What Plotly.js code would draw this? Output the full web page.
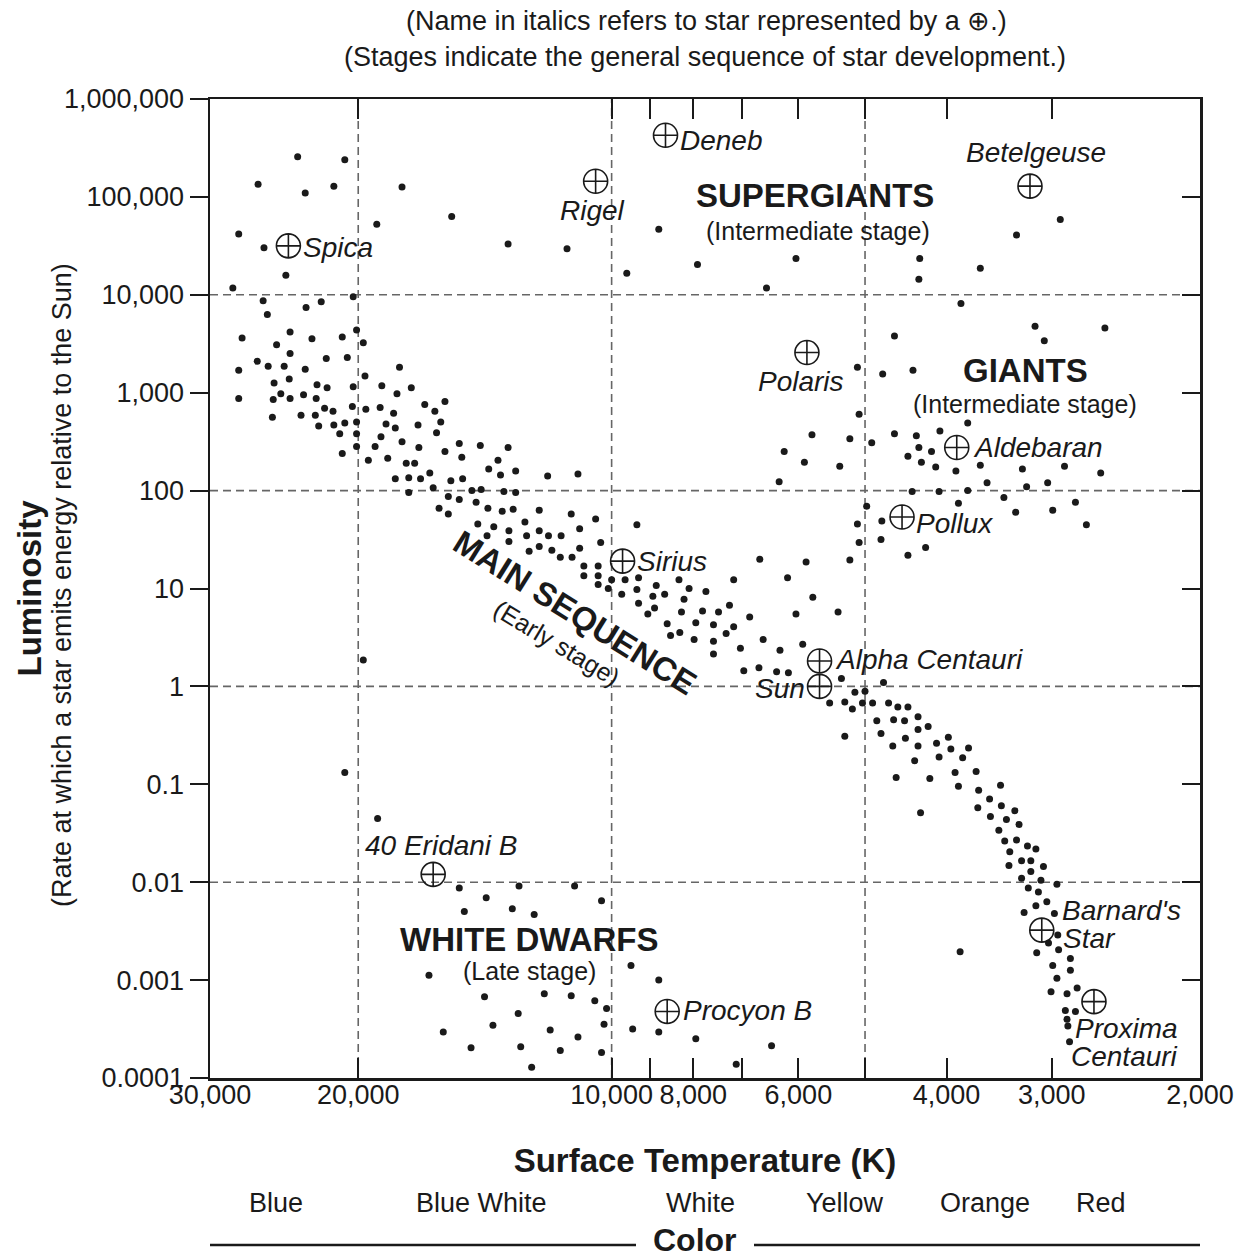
<!DOCTYPE html>
<html><head><meta charset="utf-8">
<script src="https://cdn.plot.ly/plotly-3.0.1.min.js"></script>
<style>html,body{margin:0;padding:0;background:#fff;}#chart{width:1243px;height:1258px;}</style>
</head><body><div id="chart"></div>
<script>
// ---- Data (log10 of surface temperature in K, log10 of luminosity in Suns) ----
const logTemperature = [
4.373,4.317,4.420,4.364,4.330,4.249,4.279,4.443,4.413,4.387,4.450,4.307,4.190,4.123,4.053,3.982,3.944,3.898,3.781,3.816,
3.467,3.519,3.634,3.635,3.562,3.585,3.664,3.497,3.486,3.414,
4.414,4.409,4.363,4.345,4.439,4.382,4.398,4.356,4.320,4.303,4.295,4.382,4.339,4.314,4.421,4.443,4.408,4.389,4.364,4.252,
4.293,4.401,4.383,4.350,4.338,4.307,4.273,4.238,4.255,4.443,4.402,4.393,4.382,4.366,4.351,4.341,4.331,4.308,4.292,4.275,
4.259,4.222,4.403,4.369,4.352,4.348,4.330,4.317,4.303,4.268,4.257,4.230,4.323,4.303,4.274,4.249,4.320,4.303,4.281,4.229,
4.289,4.266,4.244,4.234,4.257,4.241,4.227,4.216,4.198,4.210,4.203,4.208,4.198,4.181,4.156,4.123,4.178,4.191,4.177,4.146,
4.135,4.132,4.114,4.076,4.040,4.212,4.241,4.194,4.181,4.166,4.155,4.128,4.114,4.161,4.205,4.194,4.147,4.130,4.117,4.086,
4.048,4.019,3.970,4.159,4.140,4.103,4.148,4.122,4.101,4.086,4.075,4.060,4.038,4.013,4.122,4.098,4.086,4.071,4.038,4.061,
4.047,3.801,3.708,3.706,3.824,3.769,3.717,4.033,4.016,4.033,4.016,4.000,3.984,3.968,3.920,3.855,3.791,4.016,4.004,3.970,
3.947,3.908,3.888,3.988,3.951,3.937,3.914,3.761,3.968,3.949,3.957,3.917,3.892,3.873,3.860,3.836,3.781,3.731,3.934,3.900,
3.879,3.855,3.930,3.919,3.902,3.879,3.864,3.820,3.773,3.847,3.879,3.800,3.843,3.825,3.804,3.790,3.727,3.677,3.711,3.699,
3.741,3.723,3.714,3.702,3.690,3.671,3.660,3.648,3.685,3.665,3.652,3.636,3.723,3.680,3.651,3.636,3.624,3.614,3.600,3.666,
3.636,3.597,3.576,3.611,3.583,3.640,3.592,3.567,3.662,3.622,3.588,3.564,3.538,3.551,3.565,3.537,3.633,3.550,3.531,3.540,
3.533,3.527,3.521,3.516,3.519,3.506,3.496,3.528,3.513,3.502,3.487,3.502,3.513,3.490,3.471,3.505,3.493,3.510,3.496,3.483,
3.474,3.470,3.481,3.469,3.495,3.476,3.455,3.455,3.471,3.478,3.459,3.447,3.461,3.449,3.459,3.458,3.456,3.586,
3.708,3.678,3.642,3.706,3.577,3.610,3.762,3.717,3.691,3.664,3.638,3.795,3.635,3.620,3.648,3.632,3.771,3.729,3.615,3.591,
3.562,3.512,3.462,3.419,3.554,3.507,3.482,3.643,3.611,3.577,3.534,3.588,3.449,3.697,3.520,3.476,3.436,3.679,3.680,3.627,
3.648,
4.295,4.317,4.278,4.181,4.110,4.044,4.149,4.118,4.092,4.175,4.012,3.977,3.944,4.217,4.151,4.080,4.048,4.020,4.006,4.111,
4.141,4.200,4.073,4.040,4.009,3.975,3.944,3.900,3.810,3.852,4.167,4.108,4.061,4.012,4.095
];
const logLuminosity = [
5.41,5.38,5.13,5.04,5.11,5.10,4.72,4.62,4.48,4.20,4.07,3.98,4.80,4.52,4.47,4.22,4.67,4.31,4.37,4.07,
4.77,4.61,4.37,4.16,4.27,3.91,3.58,3.68,3.53,3.66,
3.94,3.80,3.87,3.93,3.56,3.62,3.49,3.55,3.57,3.64,3.51,3.40,3.35,3.36,3.32,3.23,3.27,3.27,3.24,3.26,
3.17,3.10,3.14,3.08,3.05,3.06,3.07,3.05,2.99,2.94,2.93,2.99,2.94,2.98,2.94,2.84,2.81,2.86,2.83,2.85,
2.79,2.88,2.75,2.77,2.77,2.66,2.67,2.69,2.70,2.68,2.64,2.67,2.58,2.58,2.55,2.50,2.38,2.45,2.45,2.44,
2.31,2.33,2.28,2.28,2.12,2.13,2.12,2.18,2.91,2.81,2.70,2.59,2.40,2.48,2.46,2.44,2.34,2.10,2.12,2.22,
2.31,2.16,2.20,2.15,2.17,2.03,1.98,1.94,1.91,2.00,2.01,1.99,1.98,1.88,1.82,1.76,1.82,1.79,1.81,1.80,
1.76,1.71,1.65,1.66,1.63,1.68,1.54,1.59,1.54,1.59,1.54,1.54,1.61,1.47,1.48,1.38,1.43,1.39,1.41,1.32,
1.32,2.09,1.66,1.47,1.30,1.27,1.29,1.23,1.23,1.13,1.13,1.09,1.09,1.11,1.09,1.09,1.11,1.04,1.00,0.99,
1.03,1.00,0.97,0.94,0.92,0.94,0.89,0.91,0.85,0.80,0.74,0.76,0.77,0.76,0.83,0.71,0.74,0.76,0.64,0.65,
0.63,0.61,0.52,0.55,0.48,0.46,0.54,0.48,0.43,0.39,0.33,0.37,0.16,0.19,0.15,0.14,0.08,0.04,-0.06,-0.05,
-0.17,-0.16,-0.23,-0.17,-0.17,-0.17,-0.21,-0.21,-0.35,-0.34,-0.35,-0.31,-0.51,-0.48,-0.53,-0.44,-0.41,-0.58,-0.52,-0.61,
-0.61,-0.64,-0.63,-0.72,-0.73,-0.76,-0.88,-0.87,-0.93,-0.94,-1.02,-1.06,-1.01,-1.15,-1.24,-1.22,-1.29,-1.33,-1.36,-1.47,
-1.58,-1.69,-1.27,-1.41,-1.57,-1.63,-1.66,-1.83,-1.78,-1.78,-1.84,-1.89,-1.96,-1.98,-2.02,-2.06,-2.10,-2.31,-2.24,-2.20,
-2.32,-2.54,-2.62,-2.69,-2.72,-2.85,-2.78,-2.90,-2.98,-3.12,-3.14,-3.08,-3.31,-3.32,-3.40,-3.47,-3.63,-2.71,
3.26,3.19,3.23,2.78,2.69,2.61,2.57,2.53,2.49,2.58,2.56,2.40,2.44,2.40,2.35,2.29,2.29,2.25,2.24,2.20,
2.26,2.22,2.25,2.18,2.08,2.04,2.08,1.99,1.99,2.00,1.93,1.87,1.88,1.84,1.78,1.80,1.65,1.69,1.50,1.42,
1.34,
0.27,-0.88,-1.35,-2.06,-2.04,-2.04,-2.16,-2.27,-2.33,-2.30,-2.19,-2.85,-3.00,-2.95,-3.17,-3.14,-3.16,-3.21,-3.29,-3.34,
-3.46,-3.53,-3.51,-3.58,-3.45,-3.50,-3.53,-3.60,-3.67,-3.86,-3.69,-3.68,-3.72,-3.74,-3.89
];

// Named stars (drawn with a circle-cross symbol)
const starNames   = ['Spica','Rigel','Deneb','Betelgeuse','Polaris','Aldebaran','Pollux','Sirius','Alpha Centauri','Sun','40 Eridani B','Procyon B',"Barnard's Star",'Proxima Centauri'];
const starLogTemp = [4.384,4.019,3.936,3.503,3.768,3.590,3.655,3.987,3.753,3.753,4.212,3.934,3.489,3.427];
const starLogLum  = [4.50,5.16,5.63,5.11,3.41,2.44,1.73,1.28,0.26,0.00,-1.92,-3.32,-2.49,-3.22];

// Axes
const xTickTemps  = [30000,20000,10000,9000,8000,7000,6000,5000,4000,3000,2000];
const xTickLabels = ['30,000','20,000','10,000','','8,000','','6,000','','4,000','3,000','2,000'];
const yTickLums   = [1e6,1e5,1e4,1e3,100,10,1,0.1,0.01,0.001,0.0001];
const yTickLabels = ['1,000,000','100,000','10,000','1,000','100','10','1','0.1','0.01','0.001','0.0001'];
const gridTemps = [20000,10000,5000];
const gridLums  = [10000,100,1,0.01];
const colorNames = ['Blue','Blue White','White','Yellow','Orange','Red'];

// ---- Presentation ----
const FONT = '"Liberation Sans", Arial, Helvetica, sans-serif';
const INK = '#1a1a1a';
const pow10 = v => Math.pow(10, v);

const gx = [], gy = [];
gridTemps.forEach(t => { gx.push(t, t, null); gy.push(1e-4, 1e6, null); });
gridLums.forEach(l => { gx.push(30000, 2000, null); gy.push(l, l, null); });

const traces = [
  {type:'scatter', mode:'lines', x:gx, y:gy, hoverinfo:'skip',
   line:{color:'#666', width:1.6, dash:'8px,5px'}},
  {type:'scatter', mode:'markers', x:logTemperature.map(pow10), y:logLuminosity.map(pow10), hoverinfo:'skip',
   marker:{size:7, color:INK, line:{width:0}}},
  {type:'scatter', mode:'markers', x:starLogTemp.map(pow10), y:starLogLum.map(pow10), text:starNames, hoverinfo:'skip',
   marker:{symbol:'circle-cross-open', size:24, color:INK, line:{width:1.6, color:INK}}},
  {type:'scatter', mode:'markers', x:[], y:[], xaxis:'x', yaxis:'y2', hoverinfo:'skip'}
];

// label placement (pixel offsets from the star's symbol)
const labelPlace = {
  'Spica':{xa:'left', dx:13, dy:-2},
  'Rigel':{xa:'center', dx:-3, dy:-29},
  'Deneb':{xa:'left', dx:12, dy:-5},
  'Betelgeuse':{xa:'center', dx:6, dy:34},
  'Polaris':{xa:'center', dx:-6, dy:-29},
  'Aldebaran':{xa:'left', dx:14, dy:0},
  'Pollux':{xa:'left', dx:12, dy:-6},
  'Sirius':{xa:'left', dx:12, dy:0},
  'Alpha Centauri':{xa:'left', dx:13, dy:1},
  'Sun':{xa:'right', dx:-13, dy:-2},
  '40 Eridani B':{xa:'center', dx:8, dy:29},
  'Procyon B':{xa:'left', dx:14, dy:1},
  "Barnard's Star":{lines:["Barnard's","Star"], xa:'left', dx:[18,19], dy:[20,-8]},
  'Proxima Centauri':{lines:['Proxima','Centauri'], xa:'right', dx:[86,86], dy:[-27,-55]}
};

const annotations = [];
starNames.forEach((name, i) => {
  const p = labelPlace[name];
  const lines = p.lines || [name];
  lines.forEach((txt, k) => {
    annotations.push({xref:'x', yref:'y', x:starLogTemp[i], y:starLogLum[i], text:txt, showarrow:false,
      xanchor:p.xa, yanchor:'middle',
      xshift:Array.isArray(p.dx)?p.dx[k]:p.dx, yshift:Array.isArray(p.dy)?p.dy[k]:p.dy,
      font:{family:FONT, size:28, style:'italic', color:INK}});
  });
});

const px = v => (v - 210) / 990;
const py = v => (1078 - v) / 979;
function note(text, x, y, size, opts) {
  annotations.push(Object.assign({xref:'paper', yref:'paper', x:px(x), y:py(y), text:text, showarrow:false,
    xanchor:'center', yanchor:'middle', borderpad:0, font:{family:FONT, size:size, color:INK}}, opts||{}));
}
note('(Name in italics refers to star represented by a \u2295.)', 706, 21, 27);
note('(Stages indicate the general sequence of star development.)', 705, 57, 27);
note('<b>SUPERGIANTS</b>', 815, 196, 33);
note('(Intermediate stage)', 818, 231, 25);
note('<b>GIANTS</b>', 1025, 370, 33);
note('(Intermediate stage)', 1025, 404, 25);
note('<b>WHITE DWARFS</b>', 529, 939, 33);
note('(Late stage)', 529, 971, 25);
note('<b>MAIN SEQUENCE</b>', 575, 612, 33, {textangle:32});
note('(Early stage)', 557, 643, 25, {textangle:31});
note('(Rate at which a star emits energy relative to the Sun)', 62, 585, 27, {textangle:-90});
const colorX = [276, 481, 700, 845, 985, 1101];
colorNames.forEach((c, i) => note(c, colorX[i], 1203, 27));
note('<b>Color</b>', 695, 1240, 32);

const shapes = [
  {type:'line', xref:'paper', yref:'paper', x0:0, x1:px(636), y0:py(1245), y1:py(1245), line:{color:INK, width:2.5}},
  {type:'line', xref:'paper', yref:'paper', x0:px(754), x1:1, y0:py(1245), y1:py(1245), line:{color:INK, width:2.5}}
];

const layout = {
  width:1243, height:1258,
  margin:{l:210, r:43, t:99, b:180, pad:0},
  paper_bgcolor:'#ffffff', plot_bgcolor:'#ffffff',
  showlegend:false, hovermode:false,
  font:{family:FONT, size:27, color:INK},
  xaxis:{type:'log', range:[Math.log10(30000), Math.log10(2000)], tickmode:'array', tickvals:xTickTemps, ticktext:xTickLabels,
    ticks:'inside', ticklen:20, tickwidth:2, tickcolor:INK, showline:true, linewidth:2.5, linecolor:INK, mirror:'ticks',
    ticklabelstandoff:-9,
    showgrid:false, zeroline:false, automargin:false, tickfont:{family:FONT, size:27, color:INK},
    title:{text:'<b>Surface Temperature (K)</b>', font:{family:FONT, size:33, color:INK}, standoff:40}},
  yaxis:{type:'log', range:[-4, 6], tickmode:'array', tickvals:yTickLums, ticktext:yTickLabels,
    ticks:'outside', ticklen:18, tickwidth:2, tickcolor:INK, showline:true, linewidth:2.5, linecolor:INK, mirror:true,
    showgrid:false, zeroline:false, automargin:false, tickfont:{family:FONT, size:27, color:INK},
    title:{text:'<b>Luminosity</b>', font:{family:FONT, size:33, color:INK}, standoff:13}},
  yaxis2:{type:'log', range:[-4, 6], overlaying:'y', side:'right', anchor:'x', tickmode:'array', tickvals:yTickLums,
    ticks:'inside', ticklen:18, tickwidth:2, tickcolor:INK, showticklabels:false, showline:false, showgrid:false, zeroline:false},
  annotations:annotations,
  shapes:shapes
};

Plotly.newPlot('chart', traces, layout, {displayModeBar:false, staticPlot:true});
</script>
</body></html>
